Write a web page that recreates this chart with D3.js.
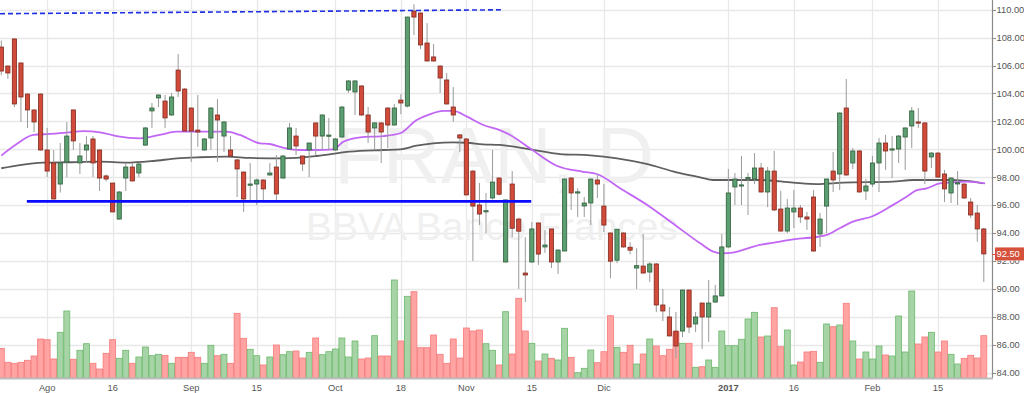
<!DOCTYPE html>
<html>
<head>
<meta charset="utf-8">
<script src="https://cdn.jsdelivr.net/npm/d3@7/dist/d3.min.js"></script>
<style>
  html, body { margin: 0; padding: 0; background: #fff; }
  svg { display: block; }
  text { font-family: "Liberation Sans", Arial, sans-serif; }
</style>
</head>
<body>
<svg id="chart" width="1024" height="393"></svg>
<script>
// ---------------- DATA ----------------
const openP = [107.33,105.97,107.91,106.19,103.96,102.82,103.96,99.95,99.02,97.51,99.09,102.82,99.02,99.95,100.74,99.95,98.09,97.58,95.0,97.94,98.73,98.30,100.30,102.75,103.68,103.46,102.46,105.68,104.32,102.96,101.38,99.95,100.81,102.46,100.95,99.95,99.24,98.37,97.44,97.51,97.80,98.16,98.73,97.94,100.02,100.95,99.52,99.95,101.89,100.95,100.95,99.95,100.88,104.25,104.11,104.54,102.46,101.53,101.89,102.96,101.74,103.53,103.10,109.91,109.77,107.62,106.62,105.97,104.97,103.03,101.03,100.74,98.44,96.01,95.55,96.51,97.94,91.92,97.51,95.0,91.13,91.92,94.72,93.0,94.29,91.92,92.71,97.94,96.9,95.94,96.15,97.80,95.93,94.0,92.05,94.0,92.98,91.49,91.63,91.20,91.78,88.84,87.98,86.97,86.97,89.91,87.48,88.98,87.98,89.05,89.49,93.0,97.30,97.4,97.88,97.87,98.66,96.94,98.44,95.72,94.14,95.51,95.79,95.15,96.58,93.93,95.93,98.44,98.23,102.96,99.02,99.88,97.01,97.51,99.02,100.45,100.0,100.02,100.88,101.67,101.96,101.89,99.45,99.73,98.23,96.87,97.58,97.51,96.22,95.43,94.29];
const highP = [107.8,106.0,107.95,106.2,104.0,102.85,104.0,101.53,99.95,100.45,101.96,102.85,100.45,100.95,100.95,100.0,98.2,97.6,97.0,99.02,99.02,99.0,101.6,103.32,103.95,103.89,104.04,106.83,104.4,103.0,103.89,100.8,103.0,103.61,102.0,100.95,99.3,98.4,99.02,97.9,97.85,99.02,99.59,99.6,101.89,101.53,99.55,100.5,101.9,102.5,102.24,100.8,103.1,104.95,104.95,104.6,103.03,101.95,101.95,103.0,103.25,103.96,109.5,110.4,109.8,109.05,107.55,106.0,105.47,104.47,101.1,100.8,98.5,97.58,96.87,99.95,98.0,96.4,98.44,95.1,93.70,94.79,94.75,94.22,94.3,92.8,97.9,98.0,97.2,96.58,97.9,98.23,97.51,94.05,94.3,94.05,93.34,92.91,93.93,91.92,91.85,89.99,88.70,88.34,89.95,89.95,88.34,89.0,90.63,90.28,93.93,98.59,98.30,99.52,98.3,99.73,99.02,98.73,99.88,97.01,96.43,97.08,96.0,95.51,97.08,95.43,97.9,99.81,102.65,105.04,100.09,99.95,97.87,99.52,100.81,101.03,100.95,101.03,101.55,103.03,102.96,101.95,99.8,99.8,98.52,98.0,98.44,97.55,96.51,96.01,94.36];
const lowP = [105.3,105.04,103.03,101.96,101.53,101.24,99.9,98.01,96.4,96.9,98.0,99.95,98.23,99.02,98.01,97.01,97.7,95.5,94.95,97.01,97.7,98.0,100.25,101.53,103.03,101.53,102.4,103.75,101.3,99.09,100.17,99.9,99.95,99.09,99.81,99.5,96.58,95.51,96.37,96.01,96.37,98.1,96.22,97.9,100.0,99.59,98.44,98.01,99.59,99.95,99.95,99.9,100.85,104.04,102.46,102.4,100.45,100.02,99.02,100.09,101.7,102.52,103.0,108.19,107.19,106.3,106.3,104.04,103.2,101.96,99.81,96.7,91.99,94.57,94.0,96.4,96.7,91.9,93.70,89.99,89.05,91.9,91.71,92.57,91.49,91.06,92.7,95.65,95.15,95.15,94.57,96.51,94.07,90.76,91.84,92.95,92.48,89.99,91.1,90.49,88.33,87.68,86.6,85.04,86.54,86.83,86.90,85.68,86.19,89.0,89.45,92.95,96.01,96.01,95.29,97.51,96.9,95.86,95.6,94.1,94.0,94.36,94.72,94.22,92.65,93.0,94.0,96.94,97.08,98.1,98.59,96.9,96.37,97.30,96.94,98.52,97.94,99.02,98.52,100.09,101.53,97.51,98.66,97.95,96.22,96.15,96.01,96.45,95.07,93.37,90.49];
const closeP = [105.61,105.47,103.25,103.75,102.82,101.96,99.95,98.44,96.44,99.02,100.95,100.60,99.52,100.31,99.02,97.94,97.87,95.51,96.94,98.73,97.73,98.95,101.53,102.96,103.89,102.25,103.75,104.18,101.31,101.31,101.24,100.74,102.96,102.10,101.96,99.52,98.59,96.44,97.51,97.80,97.16,98.30,96.80,99.52,101.53,100.24,98.95,100.45,100.95,102.46,101.02,100.74,103.03,104.90,104.90,102.46,101.24,101.89,101.24,101.74,102.96,103.32,109.48,109.48,107.48,106.33,106.33,105.11,103.25,102.46,100.81,96.73,95.93,95.36,95.6,97.65,96.78,96.37,94.34,94.13,90.99,94.29,92.49,93.14,91.92,92.78,97.87,96.87,96.95,96.15,97.87,97.51,94.57,91.98,94.27,93.0,92.77,91.66,91.13,91.78,88.84,88.41,86.62,85.90,89.91,87.26,87.98,87.98,88.98,89.49,93.0,96.87,97.87,97.45,97.98,98.66,96.94,98.44,95.65,94.14,95.79,95.79,95.15,95.0,92.71,95.0,97.87,97.80,102.60,98.16,99.88,96.94,97.37,99.02,100.45,99.88,100.03,100.95,101.53,102.75,101.89,98.44,99.73,98.01,97.16,97.94,97.6,96.51,95.29,94.29,92.50];
const volume = [297,157,147,157,177,220,390,383,190,457,670,187,277,343,147,90,247,383,197,277,147,210,310,223,237,227,147,207,207,257,207,147,327,223,237,147,647,397,287,223,130,210,330,233,263,270,200,257,400,233,263,290,400,210,370,190,200,423,220,220,980,370,817,863,303,303,430,237,147,390,200,500,470,480,343,277,130,663,240,797,470,347,170,240,197,180,497,207,53,97,280,153,263,623,307,257,327,140,240,390,320,223,287,463,347,347,107,113,180,107,470,323,323,387,590,657,410,420,703,313,480,130,160,260,267,157,540,513,530,747,370,190,260,190,320,230,220,620,260,870,340,410,457,260,370,237,140,197,227,200,423];

// moving averages: [bar index, value]
const maPurple = [[0,99.55],[2.35,100.38],[4.9,101.03],[7.4,101.10],[10,101.19],[12.5,101.31],[15.1,101.22],[17.6,100.95],[21.2,100.79],[24.2,101.03],[26.8,101.26],[29.3,101.26],[32.4,101.26],[34.4,101.26],[36.4,101.03],[39.5,100.43],[41,100.38],[43.1,100.11],[45.6,99.95],[48.2,99.95],[50.7,100.0],[52.2,100.54],[54.8,100.86],[58.3,100.95],[60.9,101.15],[63.4,102.10],[65.4,102.51],[67.5,102.75],[69,102.75],[71.1,102.34],[73.6,101.74],[76.1,101.38],[77.7,101.03],[80.7,100.07],[84.8,98.82],[88.8,98.39],[90.9,98.23],[94.9,97.08],[99,95.89],[102.5,94.70],[106.7,93.26],[108.7,92.66],[110,92.54],[111.7,92.59],[114.8,93.02],[115.8,93.14],[118.9,93.38],[120.9,93.55],[123.5,93.66],[126,93.86],[128,94.34],[130,94.81],[133.1,95.22],[136.1,96.0],[138.2,96.6],[139.8,97.08],[141.3,97.20],[143.3,97.56],[145.3,97.63],[147.4,97.68],[148.9,97.63],[150.2,97.56]];
const maGray = [[0,98.64],[2.85,98.87],[6.4,99.04],[10,99.07],[15.1,99.11],[19.1,99.04],[23.2,99.16],[26.8,99.35],[30.3,99.43],[34.4,99.47],[38,99.38],[43,99.35],[48.2,99.52],[53.2,99.83],[58.3,99.95],[60.9,100.0],[63.4,100.26],[65.9,100.43],[69,100.50],[71.1,100.47],[73.5,100.36],[76.1,100.31],[80.7,100.0],[85.3,99.66],[89.9,99.57],[94,99.35],[98.5,98.95],[103.1,98.35],[106.7,97.99],[108.7,97.80],[115.8,97.80],[120.9,97.61],[124.5,97.51],[128.5,97.61],[136.1,97.68],[139.2,97.80],[144.3,97.80],[147.4,97.73],[149.9,97.56]];

// drawn trend lines: [bar index, price]
const dashedLine = [[-0.2,109.72],[76.7,110.0]];
const supportLine = [[3.9,96.27],[80.9,96.27]];

const xTickIndex = [7,17,29,39,51,61,71,81,92,111,121,133,143];
const xTickLabels = ["Ago","16","Sep","15","Oct","18","Nov","15","Dic","2017","16","Feb","15"];
const yTicks = [84,86,88,90,92,94,96,98,100,102,104,106,108,110];
const lastPrice = 92.50;
const watermark1 = "FRAN, D";
const watermark2 = "BBVA Banco Frances";

// ---------------- CHART ----------------
const W = 1024, H = 393;
const plotRight = 992, plotBottom = 378;
const svg = d3.select("#chart");
svg.append("rect").attr("width", W).attr("height", H).attr("fill", "#fff");

const n = closeP.length;
const x = d3.scaleLinear().domain([0, n - 1]).range([1.3, 983.8]);
const y = d3.scaleLinear().domain([84, 110]).range([372.5, 9.8]);
const step = x(1) - x(0);
const vol = d3.scaleLinear().domain([0, 980]).range([plotBottom, 280]);

svg.append("defs").append("clipPath").attr("id", "plot")
  .append("rect").attr("x", 0).attr("y", 0).attr("width", plotRight).attr("height", plotBottom);

// grid
const grid = svg.append("g");
grid.selectAll("line.h").data(yTicks).enter().append("line")
  .attr("x1", 0).attr("x2", plotRight)
  .attr("y1", d => Math.round(y(d)) + 0.5).attr("y2", d => Math.round(y(d)) + 0.5)
  .attr("stroke", "#e8e8e8").attr("stroke-width", 1.3);
grid.selectAll("line.v").data(xTickIndex).enter().append("line")
  .attr("y1", 0).attr("y2", plotBottom)
  .attr("x1", d => Math.round(x(d)) + 0.5).attr("x2", d => Math.round(x(d)) + 0.5)
  .attr("stroke", "#e8e8e8").attr("stroke-width", 1.3);

// watermark
svg.append("text").attr("x", 494).attr("y", 183).attr("text-anchor", "middle")
  .attr("font-size", 80).attr("fill", "#f0f0f0").text(watermark1);
svg.append("text").attr("x", 492).attr("y", 240).attr("text-anchor", "middle")
  .attr("font-size", 39).attr("fill", "#f0f0f0").text(watermark2);

const plot = svg.append("g").attr("clip-path", "url(#plot)");
const idx = d3.range(n);
const up = i => closeP[i] >= openP[i];

// volume
plot.append("g").selectAll("rect").data(idx).enter().append("rect")
  .attr("x", i => x(i) - step / 2 + 0.3)
  .attr("width", step - 0.6)
  .attr("y", i => vol(volume[i]))
  .attr("height", i => plotBottom - vol(volume[i]))
  .attr("fill", i => up(i) ? "#a6d4a6" : "#ffa3a3")
  .attr("stroke", i => up(i) ? "#6cb86c" : "#f57a7a")
  .attr("stroke-width", 0.8);

// moving averages
const line = d3.line().x(d => x(d[0])).y(d => y(d[1])).curve(d3.curveMonotoneX);
plot.append("path").attr("d", line(maGray)).attr("fill", "none")
  .attr("stroke", "#5f5f5f").attr("stroke-width", 1.8);
plot.append("path").attr("d", line(maPurple)).attr("fill", "none")
  .attr("stroke", "#c266f5").attr("stroke-width", 1.8);

// candles
const cg = plot.append("g");
cg.selectAll("line").data(idx).enter().append("line")
  .attr("x1", i => x(i)).attr("x2", i => x(i))
  .attr("y1", i => y(highP[i])).attr("y2", i => y(lowP[i]))
  .attr("stroke", "#9a9a9a").attr("stroke-width", 1);
cg.selectAll("rect").data(idx).enter().append("rect")
  .attr("x", i => x(i) - 2.1)
  .attr("width", 4.2)
  .attr("y", i => y(Math.max(openP[i], closeP[i])))
  .attr("height", i => Math.max(1.2, Math.abs(y(openP[i]) - y(closeP[i]))))
  .attr("fill", i => up(i) ? "#5b9e70" : "#d24b3a")
  .attr("stroke", i => up(i) ? "#2f5e3b" : "#7e2a1e")
  .attr("stroke-width", 0.8);

// drawings
plot.append("line")
  .attr("x1", x(dashedLine[0][0])).attr("y1", y(dashedLine[0][1]))
  .attr("x2", x(dashedLine[1][0])).attr("y2", y(dashedLine[1][1]))
  .attr("stroke", "#1f2fe6").attr("stroke-width", 1.6).attr("stroke-dasharray", "5,3");
plot.append("line")
  .attr("x1", x(supportLine[0][0])).attr("y1", y(supportLine[0][1]))
  .attr("x2", x(supportLine[1][0])).attr("y2", y(supportLine[1][1]))
  .attr("stroke", "#0a0aff").attr("stroke-width", 2.6);

// right axis
svg.append("line").attr("x1", plotRight + 0.5).attr("x2", plotRight + 0.5)
  .attr("y1", 0).attr("y2", plotBottom).attr("stroke", "#8a8a8a").attr("stroke-width", 1.2);
const ya = svg.append("g");
const yLabelTicks = yTicks.filter(d => Math.abs(y(d) - y(lastPrice)) > 9);
ya.selectAll("line").data(yTicks).enter().append("line")
  .attr("x1", plotRight).attr("x2", plotRight + 4)
  .attr("y1", d => Math.round(y(d)) + 0.5).attr("y2", d => Math.round(y(d)) + 0.5)
  .attr("stroke", "#8a8a8a");
ya.selectAll("text").data(yTicks).enter().append("text")
  .attr("x", 996.5).attr("y", d => y(d) + 3.3)
  .attr("font-size", 9.3).attr("fill", "#555")
  .attr("clip-path", null)
  .text(d => d3.format(".2f")(d))
  .style("display", d => yLabelTicks.includes(d) ? null : "none");
// partially hidden label under last-price box (as in reference, only lower part visible)
svg.append("clipPath").attr("id", "belowBox").append("rect")
  .attr("x", 990).attr("y", y(lastPrice) + 6.5).attr("width", 40).attr("height", 20);
ya.selectAll("text.hidden").data(yTicks.filter(d => !yLabelTicks.includes(d))).enter().append("text")
  .attr("x", 996.5).attr("y", d => y(d) + 3.3)
  .attr("font-size", 9.3).attr("fill", "#555")
  .attr("clip-path", "url(#belowBox)")
  .text(d => d3.format(".2f")(d));

// last price label
svg.append("rect").attr("x", 995).attr("y", y(lastPrice) - 6.5).attr("width", 29).attr("height", 13)
  .attr("fill", "#d5513b");
svg.append("line").attr("x1", plotRight).attr("x2", 995)
  .attr("y1", Math.round(y(lastPrice)) + 0.5).attr("y2", Math.round(y(lastPrice)) + 0.5)
  .attr("stroke", "#d5513b");
svg.append("text").attr("x", 996.5).attr("y", y(lastPrice) + 3.3)
  .attr("font-size", 9.3).attr("fill", "#fff").text(d3.format(".2f")(lastPrice));

// bottom axis
svg.append("line").attr("x1", 0).attr("x2", plotRight + 1)
  .attr("y1", plotBottom + 0.5).attr("y2", plotBottom + 0.5)
  .attr("stroke", "#bdbdbd").attr("stroke-width", 2);
svg.append("g").selectAll("text").data(xTickIndex).enter().append("text")
  .attr("x", i => x(i)).attr("y", 391).attr("text-anchor", "middle")
  .attr("font-size", 9.3).attr("fill", "#555")
  .attr("font-weight", (d, k) => xTickLabels[k] === "2017" ? "bold" : "normal")
  .text((d, k) => xTickLabels[k]);
</script>
</body>
</html>
